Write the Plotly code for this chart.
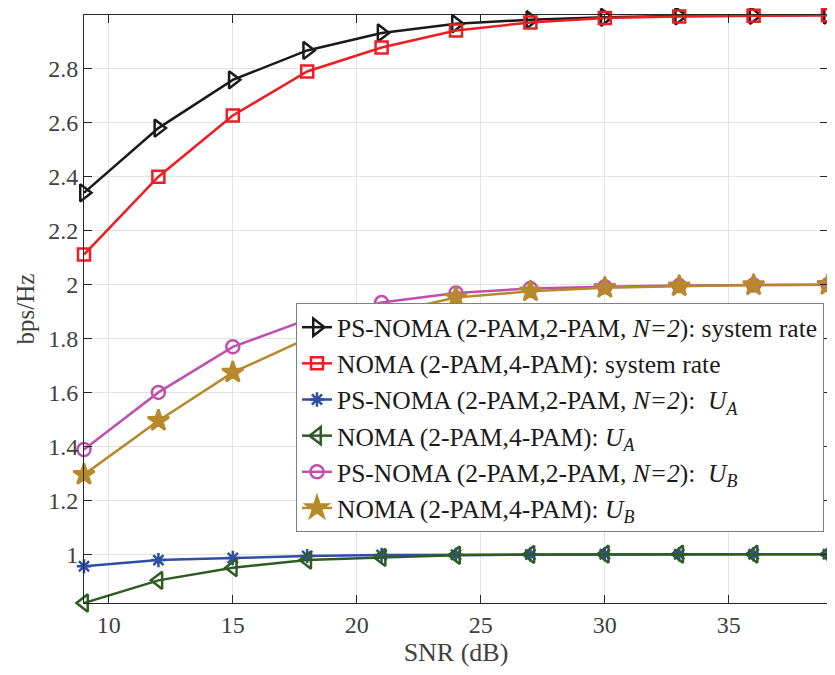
import plotly.graph_objects as go

snr = [9, 12, 15, 18, 21, 24, 27, 30, 33, 36, 39]
ps_sys = [2.340, 2.580, 2.759, 2.868, 2.933, 2.967, 2.982, 2.991, 2.996, 2.998, 2.9995]
noma_sys = [2.111, 2.400, 2.627, 2.790, 2.879, 2.942, 2.972, 2.988, 2.994, 2.997, 2.999]
ps_ua = [0.955, 0.978, 0.986, 0.993, 0.997, 0.998, 0.999, 1.0, 1.0, 1.0, 1.0]
noma_ua = [0.819, 0.903, 0.950, 0.978, 0.988, 0.996, 0.999, 1.0, 1.0, 1.0, 1.0]
ps_ub = [1.388, 1.600, 1.769, 1.870, 1.933, 1.969, 1.985, 1.992, 1.996, 1.998, 1.9995]
noma_ub = [1.295, 1.495, 1.674, 1.800, 1.890, 1.952, 1.975, 1.988, 1.994, 1.998, 1.999]

x_ticks = [10, 15, 20, 25, 30, 35]
y_ticks = [1, 1.2, 1.4, 1.6, 1.8, 2, 2.2, 2.4, 2.6, 2.8]

names = [
    "PS-NOMA (2-PAM,2-PAM, <i>N=2</i>): system rate",
    "NOMA (2-PAM,4-PAM): system rate",
    "PS-NOMA (2-PAM,2-PAM, <i>N=2</i>):&nbsp; <i>U</i><sub><i>A</i></sub>",
    "NOMA (2-PAM,4-PAM): <i>U</i><sub><i>A</i></sub>",
    "PS-NOMA (2-PAM,2-PAM, <i>N=2</i>):&nbsp; <i>U</i><sub><i>B</i></sub>",
    "NOMA (2-PAM,4-PAM): <i>U</i><sub><i>B</i></sub>",
]
series = [ps_sys, noma_sys, ps_ua, noma_ua, ps_ub, noma_ub]
colors = ["#1a1a1a", "#ee1d24", "#2f4fa5", "#2e5c22", "#c04fae", "#b8892b"]
symbols = ["triangle-right-open", "square-open", "asterisk-open", "triangle-left-open",
           "circle-open", "star"]
sizes = [15, 12, 12, 15, 13, 16]

fig = go.Figure()
for name, ys, c, s, sz in zip(names, series, colors, symbols, sizes):
    fig.add_trace(go.Scatter(
        x=snr, y=ys, name=name, mode="lines+markers",
        line=dict(color=c, width=2.5),
        marker=dict(symbol=s, size=sz, color=c, line=dict(color=c, width=2.5)),
        cliponaxis=False,
    ))

all_y = ps_sys + noma_sys + ps_ua + noma_ua + ps_ub + noma_ub

axis_common = dict(
    showline=True, linecolor="#262626", linewidth=1, mirror="ticks",
    ticks="inside", ticklen=8, tickcolor="#262626",
    showgrid=True, gridcolor="#e3e3e3", gridwidth=1,
    zeroline=False, automargin=False,
    tickfont=dict(family="Liberation Serif", size=24, color="#404040"),
)

# page body has an 8px margin; size the figure to fit the 835x675 window
fig.update_layout(
    width=827, height=667,
    margin=dict(l=76, r=7, t=7, b=72),
    paper_bgcolor="white", plot_bgcolor="white",
    font=dict(family="Liberation Serif", color="#262626"),
    xaxis=dict(range=[min(snr), max(snr)], tickvals=x_ticks,
               title=dict(text="SNR (dB)", font=dict(size=26, color="#404040"), standoff=4),
               **axis_common),
    yaxis=dict(range=[min(all_y), max(all_y)], tickvals=y_ticks,
               title=dict(text="bps/Hz", font=dict(size=25, color="#404040"), standoff=6),
               **axis_common),
    legend=dict(
        x=0.9946, xanchor="right", y=0.510, yanchor="top",
        bgcolor="white", bordercolor="#808080", borderwidth=1,
        font=dict(family="Liberation Serif", size=25.5, color="#1a1a1a"),
        tracegroupgap=0,
    ),
    showlegend=True,
)

fig.write_html("out.html")
